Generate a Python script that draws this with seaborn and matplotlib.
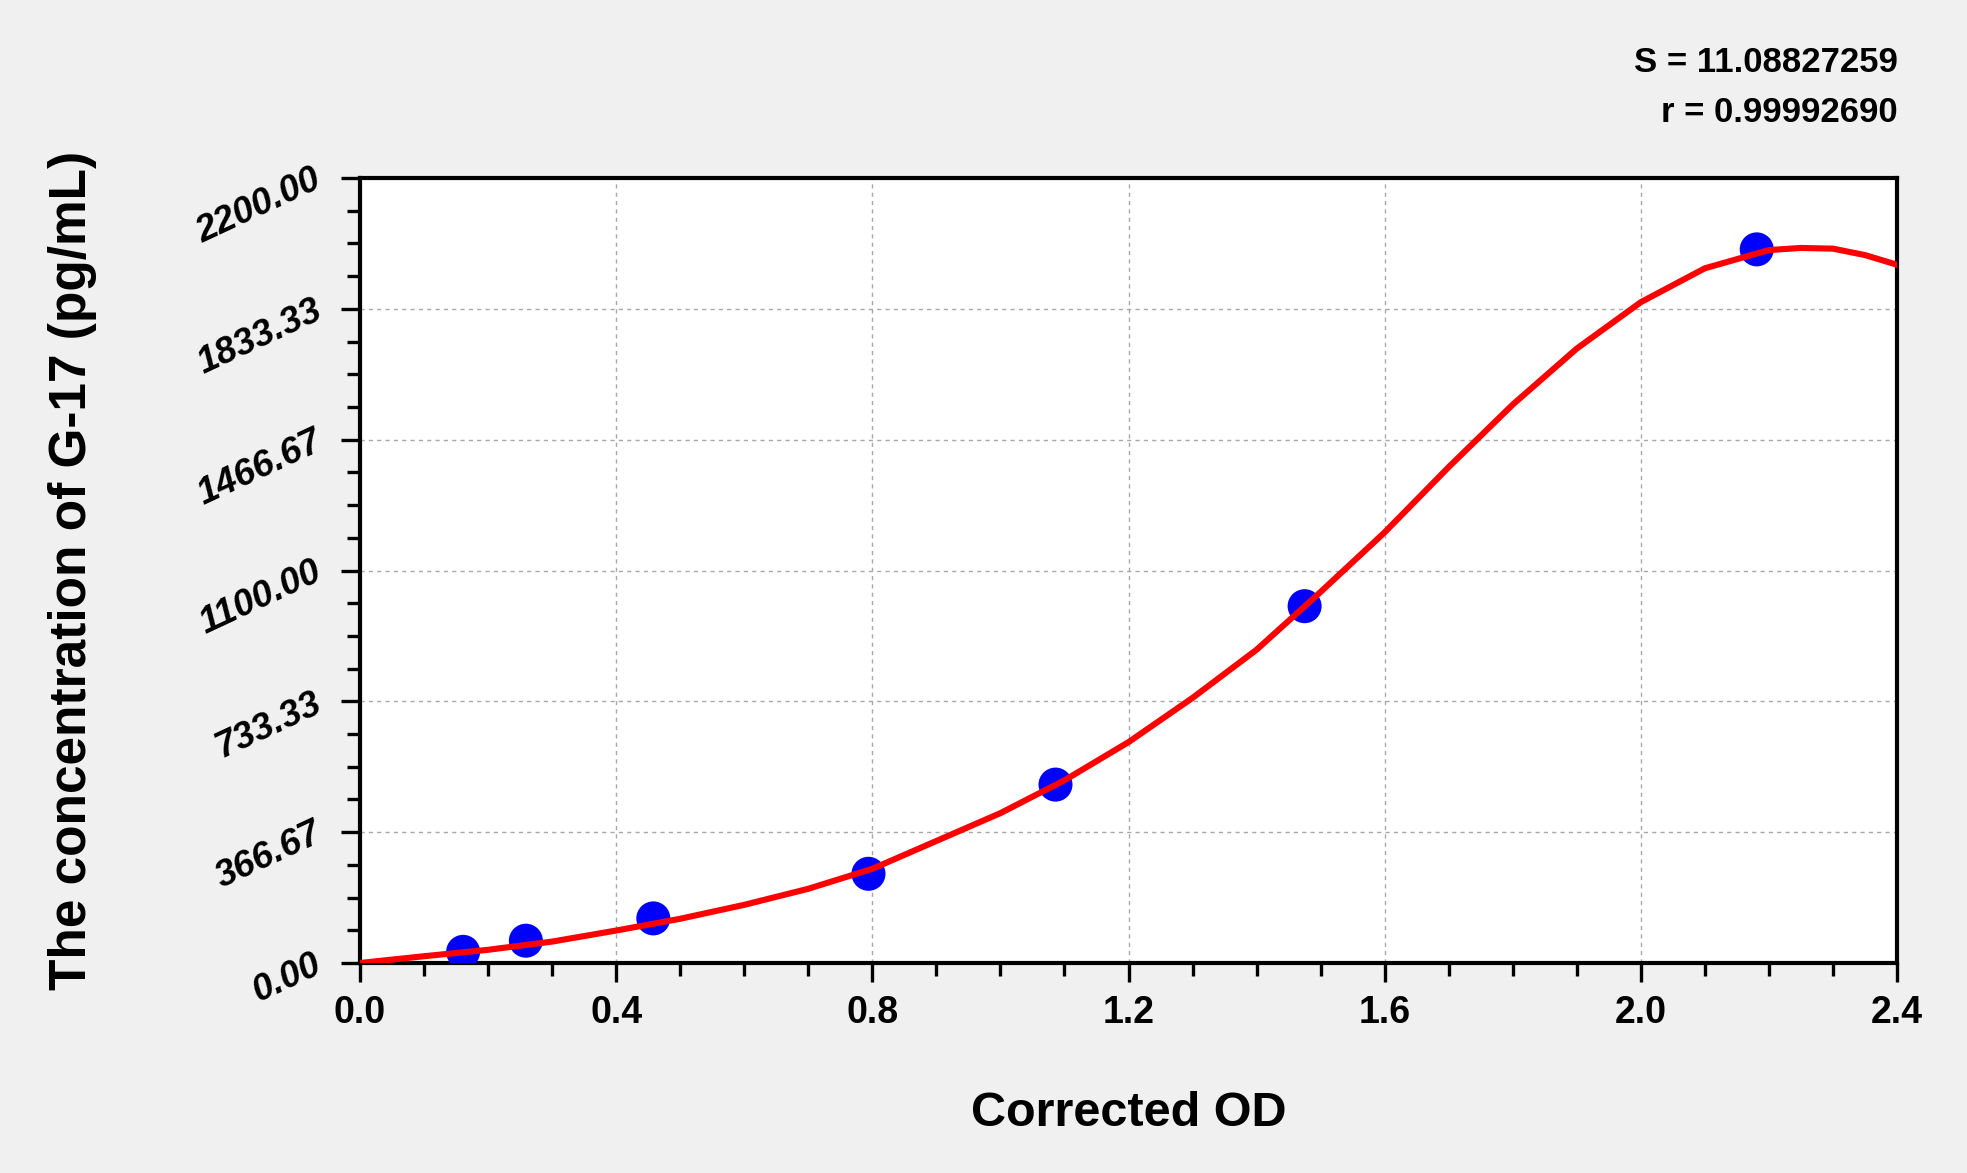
import matplotlib
matplotlib.use("Agg")
import matplotlib.pyplot as plt
from matplotlib.ticker import MultipleLocator, FixedLocator, FormatStrFormatter
import seaborn as sns
import numpy as np
import pandas as pd

# ---- data ----
std_od = [0.161, 0.259, 0.458, 0.794, 1.086, 1.475, 2.181]
std_conc = [31.25, 62.5, 125, 250, 500, 1000, 2000]

curve_od = [0.0, 0.1, 0.2, 0.3, 0.4, 0.5, 0.6, 0.7, 0.8, 0.9, 1.0, 1.1, 1.2,
            1.3, 1.4, 1.5, 1.6, 1.7, 1.8, 1.9, 2.0, 2.1, 2.2, 2.25, 2.3, 2.35, 2.4]
curve_conc = [0, 19, 37, 60, 91, 124, 163, 208, 264, 342, 420, 512, 619,
              743, 878, 1040, 1207, 1390, 1565, 1722, 1852, 1947, 1998, 2004, 2002, 1984, 1957]

y_ticks = [0.00, 366.67, 733.33, 1100.00, 1466.67, 1833.33, 2200.00]
x_ticks = [0.0, 0.4, 0.8, 1.2, 1.6, 2.0, 2.4]
stat_lines = ["S = 11.08827259", "r = 0.99992690"]
x_label = "Corrected OD"
y_label = "The concentration of G-17 (pg/mL)"

plt.rcParams['font.family'] = ['Liberation Sans', 'DejaVu Sans']

W, H = 1967, 1173
fig = plt.figure(figsize=(W / 100, H / 100), dpi=100, facecolor='#f0f0f0')
ax = fig.add_axes([360 / W, 1 - 963 / H, (1897 - 360) / W, (963 - 178) / H])
ax.set_facecolor('white')

df_std = pd.DataFrame({'od': std_od, 'conc': std_conc})
df_curve = pd.DataFrame({'od': curve_od, 'conc': curve_conc})

sns.scatterplot(data=df_std, x='od', y='conc', ax=ax, s=600, color='#0000ff',
                edgecolor='none', zorder=3, legend=False)
sns.lineplot(data=df_curve, x='od', y='conc', ax=ax, color='#ff0000', lw=4.4,
             sort=False, estimator=None, zorder=4, legend=False)

ax.set_xlim(0, 2.4)
ax.set_ylim(0, 2200)

ax.xaxis.set_major_locator(FixedLocator(x_ticks))
ax.xaxis.set_minor_locator(MultipleLocator(0.1))
ax.yaxis.set_major_locator(FixedLocator(y_ticks))
ax.yaxis.set_minor_locator(MultipleLocator(2200 / 24))
ax.xaxis.set_major_formatter(FormatStrFormatter('%.1f'))
ax.yaxis.set_major_formatter(FormatStrFormatter('%.2f'))

ax.grid(True, which='major', color='#a8a8a8', linestyle=(0, (3, 3)), linewidth=1.0)
ax.set_axisbelow(True)

for sp in ax.spines.values():
    sp.set_linewidth(3.0)
    sp.set_color('black')

ax.tick_params(axis='both', which='major', direction='out', length=14, width=2.4,
               color='black')
ax.tick_params(axis='both', which='minor', direction='out', length=9.5, width=2.4,
               color='black')
ax.tick_params(axis='x', which='major', pad=9, labelsize=27)
ax.tick_params(axis='y', which='major', pad=15, labelsize=26.5)

for lab in ax.get_xticklabels():
    lab.set_fontweight('bold')
for lab in ax.get_yticklabels():
    lab.set_fontweight('bold')
    lab.set_fontstyle('italic')
    lab.set_rotation(25)
    lab.set_rotation_mode('anchor')
    lab.set_ha('right')
    lab.set_va('center')

ax.set_xlabel('')
ax.set_ylabel('')
fig.text(0.5 * (360 + 1897) / W, 1 - 1113 / H, x_label, ha='center', va='center',
         fontsize=35, fontweight='bold')
fig.text(73 / W, 1 - 570 / H, y_label, ha='center', va='center', rotation=90,
         fontsize=37, fontweight='bold')

fig.text(1898 / W, 1 - 63 / H, stat_lines[0], ha='right', va='center',
         fontsize=25, fontweight='bold')
fig.text(1898 / W, 1 - 112 / H, stat_lines[1], ha='right', va='center',
         fontsize=25, fontweight='bold')

fig.savefig('out.png', dpi=100, facecolor=fig.get_facecolor())
